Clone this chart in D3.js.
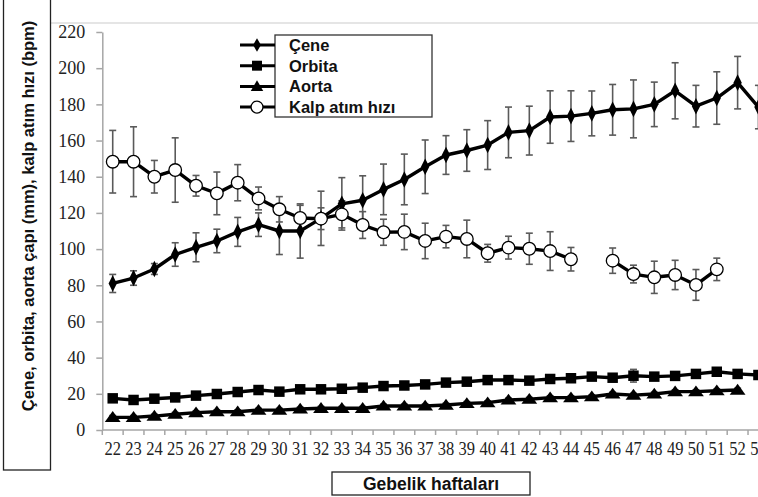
<!DOCTYPE html>
<html>
<head>
<meta charset="utf-8">
<script src="https://cdn.jsdelivr.net/npm/d3@7/dist/d3.min.js"></script>
<style>
  html, body { margin: 0; padding: 0; background: #fff; }
  svg { display: block; }
</style>
</head>
<body>
<svg id="chart" width="758" height="497"></svg>
<script>
const weeks = [22,23,24,25,26,27,28,29,30,31,32,33,34,35,36,37,38,39,40,41,42,43,44,45,46,47,48,49,50,51,52,53];
const yTicks = [0,20,40,60,80,100,120,140,160,180,200,220];

const ceneMean = [81,84,89,97,101,104.5,109.5,113.5,110,110,117,125,127,133,138.5,145.5,152,154.5,157.5,164.5,165.5,173,173.5,175,177,177.5,180,187.5,179,183.5,192,178.5];
const ceneErr  = [5,4,3,6.5,8,6.5,8,6.5,13,15,15,14.5,13.5,14,14,14.8,10.7,11.5,13.5,14,13.5,14.5,14,12.4,14,16,12.3,15.5,11.5,14.5,14.5,12];

const orbitaMean = [17.5,16.6,17.3,18,19,19.9,21,22.1,21.2,22.5,22.5,22.8,23.4,24.3,24.6,25.2,26.2,26.7,27.6,27.6,27.3,28.2,28.6,29.5,28.9,30,29.5,29.9,31,32.2,31,30.4];
const orbitaErr  = [1.5,1.5,1.5,1.5,1.5,1.5,1.5,1.5,1.5,1.5,1.5,1.5,1.5,1.5,1.5,1.5,1.5,1.5,1.5,1.5,1.5,1.5,1.5,1.5,1.5,3.5,1.5,1.5,1.5,1.5,1.5,1.5];

const aortaMean = [7,7,7.7,8.7,9.6,10.1,10.1,11,11,11.6,12,12,12,13.3,13.3,13.3,13.8,14.7,15.1,16.6,17,17.9,17.9,18.4,19.9,19.3,19.9,21.2,21.2,21.7,22.1,null];
const aortaErr  = [1,1,1,1,1,1,1,1,1,1,1,1,1,1,1,1,1,1,1,1,1,1,1,1,1,1,1,1,1,1,1,null];

const kalpMean = [148.3,148.3,140,143.7,135,130.8,136.7,128,122,117.2,116.8,119.2,113.3,109.3,109.5,104.5,106.9,105.6,97.7,100.8,100.2,98.9,94.4,null,93.6,86.2,84.4,85.7,80.2,88.8,null,null];
const kalpErr  = [17.3,19.3,9,17.8,5.7,11.8,10,6.3,7,7,6,7.5,7.4,7.2,9.8,9.8,6.2,10.4,4.9,6.3,8.6,10.7,6.5,null,7,4.9,8.9,8.1,8.5,6.2,null,null];

const seriesNames = ["Çene","Orbita","Aorta","Kalp atım hızı"];
const yTitle = "Çene, orbita, aorta çapı (mm), kalp atım hızı (bpm)";
const xTitle = "Gebelik haftaları";

const SERIF = "'Liberation Serif', 'Times New Roman', serif";
const SANS = "'Liberation Sans', Arial, sans-serif";

const series = [
  {name: seriesNames[0], mean: ceneMean, err: ceneErr, sym: d3.symbolDiamond, size: 60, fill: "#000"},
  {name: seriesNames[1], mean: orbitaMean, err: orbitaErr, sym: d3.symbolSquare, size: 110, fill: "#000"},
  {name: seriesNames[2], mean: aortaMean, err: aortaErr, sym: d3.symbolTriangle, size: 75, fill: "#000"},
  {name: seriesNames[3], mean: kalpMean, err: kalpErr, sym: d3.symbolCircle, size: 125, fill: "#fff"}
];

const svg = d3.select("#chart");
const x = d3.scaleBand().domain(weeks).range([102.3, 102.3 + 32 * 20.83]);
const y = d3.scaleLinear().domain([0, 220]).range([430, 32]);
const cx = w => x(w) + x.bandwidth() / 2;

// top border line
svg.append("line").attr("x1", 50).attr("x2", 758).attr("y1", 23).attr("y2", 23)
  .attr("stroke", "#dcdcdc").attr("stroke-width", 1.5);

// y axis
const yAxis = svg.append("g").attr("transform", "translate(102.3,0)")
  .call(d3.axisLeft(y).tickValues(yTicks).tickSize(6).tickPadding(11).tickSizeOuter(0));
yAxis.select(".domain").attr("stroke", "#a6a6a6").attr("stroke-width", 1.5);
yAxis.selectAll(".tick line").attr("stroke", "#a6a6a6").attr("stroke-width", 1.5);
yAxis.selectAll(".tick text")
  .style("font-family", SERIF).style("font-size", "18px").attr("fill", "#222");

// x axis line and ticks
svg.append("line").attr("x1", 102.3).attr("x2", 758).attr("y1", y(0)).attr("y2", y(0))
  .attr("stroke", "#a6a6a6").attr("stroke-width", 1.5);
svg.append("line").attr("x1", 102.3).attr("x2", 102.3).attr("y1", y(0)).attr("y2", y(0) + 5)
  .attr("stroke", "#a6a6a6").attr("stroke-width", 1.5);
svg.append("g").selectAll("line").data(weeks.slice(1)).join("line")
  .attr("x1", d => x(d)).attr("x2", d => x(d)).attr("y1", y(0)).attr("y2", y(0) + 5)
  .attr("stroke", "#a6a6a6").attr("stroke-width", 1.5);
const xAxis = svg.append("g").attr("transform", `translate(0,${y(0)})`)
  .call(d3.axisBottom(x).tickSize(0).tickPadding(12));
xAxis.select(".domain").remove();
xAxis.selectAll(".tick text")
  .style("font-family", SERIF).style("font-size", "18px").attr("fill", "#222")
  .attr("textLength", 16.5).attr("lengthAdjust", "spacingAndGlyphs");

// error bars
const errG = svg.append("g");
series.forEach(s => {
  weeks.forEach((w, i) => {
    const m = s.mean[i], e = s.err[i];
    if (m == null || e == null) return;
    const px = cx(w);
    const g = errG.append("g").attr("stroke", "#5a5a5a").attr("stroke-width", 1.6);
    g.append("line").attr("x1", px).attr("x2", px).attr("y1", y(m - e)).attr("y2", y(m + e));
    g.append("line").attr("x1", px - 3.5).attr("x2", px + 3.5).attr("y1", y(m - e)).attr("y2", y(m - e));
    g.append("line").attr("x1", px - 3.5).attr("x2", px + 3.5).attr("y1", y(m + e)).attr("y2", y(m + e));
  });
});

// lines
const line = d3.line().defined(d => d.v != null).x(d => cx(d.w)).y(d => y(d.v));
series.forEach(s => {
  const data = weeks.map((w, i) => ({w, v: s.mean[i]}));
  svg.append("path").datum(data).attr("d", line)
    .attr("fill", "none").attr("stroke", "#000").attr("stroke-width", 3.4).attr("stroke-linejoin", "round");
});

// markers
series.forEach(s => {
  const data = weeks.map((w, i) => ({w, v: s.mean[i]})).filter(d => d.v != null);
  const sym = d3.symbol().type(s.sym).size(s.size);
  svg.append("g").selectAll("path").data(data).join("path")
    .attr("d", sym)
    .attr("transform", d => {
      const sy = s.sym === d3.symbolDiamond ? `scale(1,1.15)` : (s.sym === d3.symbolTriangle ? `scale(1.2,0.95)` : "");
      return `translate(${cx(d.w)},${y(d.v) + (s.sym === d3.symbolTriangle ? 1 : 0)}) ${sy}`;
    })
    .attr("fill", s.fill).attr("stroke", "#000").attr("stroke-width", s.fill === "#fff" ? 1.3 : 0);
});

// legend
const leg = svg.append("g");
leg.append("rect").attr("x", 275).attr("y", 35).attr("width", 157).attr("height", 82)
  .attr("fill", "#fff").attr("stroke", "#333").attr("stroke-width", 1.3);
series.forEach((s, i) => {
  const ly = 45 + i * 20.7;
  leg.append("line").attr("x1", 240).attr("x2", 275).attr("y1", ly).attr("y2", ly)
    .attr("stroke", "#000").attr("stroke-width", 3);
  const sym = d3.symbol().type(s.sym).size(s.size * 0.9);
  leg.append("path").attr("d", sym)
    .attr("transform", `translate(257,${ly + (s.sym === d3.symbolTriangle ? 1 : 0)})`)
    .attr("fill", s.fill).attr("stroke", "#000").attr("stroke-width", s.fill === "#fff" ? 1.3 : 0);
  leg.append("text").attr("x", 289).attr("y", ly).attr("dy", "0.36em")
    .style("font-family", SANS).style("font-weight", "bold")
    .style("font-size", "16.5px").attr("fill", "#111").text(s.name);
});

// y title box
svg.append("rect").attr("x", 3.5).attr("y", -2).attr("width", 47).attr("height", 472)
  .attr("fill", "none").attr("stroke", "#222").attr("stroke-width", 1.3);
svg.append("text").attr("transform", "translate(28,216) rotate(-90)")
  .attr("text-anchor", "middle").attr("dy", "0.36em")
  .style("font-family", SANS).style("font-weight", "bold")
  .style("font-size", "16.5px").attr("fill", "#111").text(yTitle);

// x title box
svg.append("rect").attr("x", 332).attr("y", 472).attr("width", 198).attr("height", 23)
  .attr("fill", "none").attr("stroke", "#222").attr("stroke-width", 1.3);
svg.append("text").attr("x", 431).attr("y", 483.5).attr("dy", "0.36em")
  .attr("text-anchor", "middle")
  .style("font-family", SANS).style("font-weight", "bold")
  .style("font-size", "17.5px").attr("fill", "#111").text(xTitle);
</script>
</body>
</html>
